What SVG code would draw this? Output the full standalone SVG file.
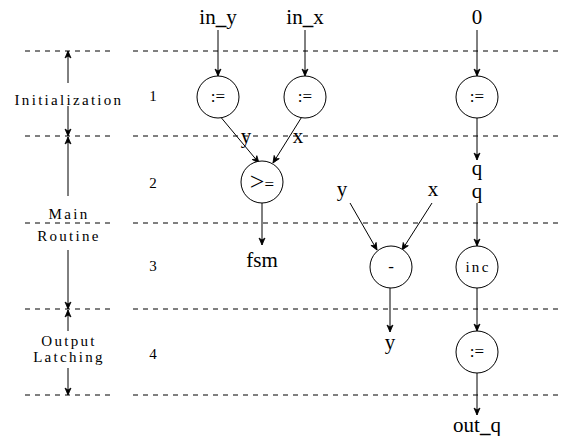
<svg xmlns="http://www.w3.org/2000/svg" width="562" height="436" viewBox="0 0 562 436">
<defs>
<marker id="ah" markerWidth="10" markerHeight="10" refX="8" refY="5" orient="auto" markerUnits="userSpaceOnUse">
<path d="M1,2 L8,5 L1,8 L3,5 Z" fill="#000" stroke="#000" stroke-width="0.8"/>
</marker>
<style>
.dash{stroke:#000;stroke-width:1;stroke-dasharray:5,5;fill:none}
.ln{stroke:#000;stroke-width:1;fill:none;marker-end:url(#ah)}
.nd{fill:#fff;stroke:#000;stroke-width:1}
.t{font-family:"Liberation Serif",serif;font-size:21px;text-anchor:middle;fill:#000}
.s{font-family:"Liberation Serif",serif;font-size:15px;text-anchor:middle;letter-spacing:2.3px;fill:#000}
.n{font-family:"Liberation Serif",serif;font-size:15px;text-anchor:middle;fill:#000}
.op{font-family:"Liberation Serif",serif;font-size:17px;text-anchor:middle;fill:#000}
</style>
</defs>
<g id="grid">
<line class="dash" x1="25" y1="51" x2="112" y2="51"/><line class="dash" x1="133" y1="51" x2="562" y2="51"/>
<line class="dash" x1="25" y1="136" x2="112" y2="136"/><line class="dash" x1="133" y1="136" x2="562" y2="136"/>
<line class="dash" x1="25" y1="223" x2="112" y2="223"/><line class="dash" x1="133" y1="223" x2="562" y2="223"/>
<line class="dash" x1="25" y1="309" x2="112" y2="309"/><line class="dash" x1="133" y1="309" x2="562" y2="309"/>
<line class="dash" x1="25" y1="395" x2="112" y2="395"/><line class="dash" x1="133" y1="395" x2="562" y2="395"/>
</g>
<g id="phases">
<text class="s" x="69" y="105">Initialization</text>
<text class="s" x="69" y="219">Main</text>
<text class="s" x="69" y="241">Routine</text>
<text class="s" x="69" y="346">Output</text>
<text class="s" x="69" y="362">Latching</text>
<text class="n" x="153" y="101">1</text>
<text class="n" x="153" y="188">2</text>
<text class="n" x="153" y="271">3</text>
<text class="n" x="153" y="359">4</text>
</g>
<g id="connectors">
<line class="ln" x1="68" y1="83" x2="68" y2="51"/>
<line class="ln" x1="68" y1="106" x2="68" y2="136"/>
<line class="ln" x1="68" y1="196" x2="68" y2="137"/>
<line class="ln" x1="68" y1="250" x2="68" y2="309"/>
<line class="ln" x1="68" y1="331" x2="68" y2="310"/>
<line class="ln" x1="68" y1="368" x2="68" y2="395"/>
<line class="ln" x1="218" y1="30" x2="218" y2="76"/>
<line class="ln" x1="305" y1="30" x2="305" y2="76"/>
<line class="ln" x1="477" y1="30" x2="477" y2="76"/>
<line class="ln" x1="219" y1="115" x2="259" y2="163"/>
<line class="ln" x1="303" y1="115" x2="273" y2="163"/>
<line class="ln" x1="262" y1="203" x2="262" y2="245"/>
<line class="ln" x1="477" y1="118" x2="477" y2="160"/>
<line class="ln" x1="477" y1="203" x2="477" y2="246"/>
<line class="ln" x1="350" y1="203" x2="377" y2="250"/>
<line class="ln" x1="432" y1="203" x2="402" y2="250"/>
<line class="ln" x1="390" y1="288" x2="390" y2="332"/>
<line class="ln" x1="477" y1="288" x2="477" y2="331"/>
<line class="ln" x1="477" y1="373" x2="477" y2="415"/>
</g>
<g id="n_in_y"><text class="t" x="218" y="24">in<tspan font-weight="bold">_</tspan>y</text></g>
<g id="n_in_x"><text class="t" x="305" y="24">in<tspan font-weight="bold">_</tspan>x</text></g>
<g id="n_zero"><text class="t" x="477" y="24">0</text></g>
<g id="n_assign_y"><circle class="nd" cx="218" cy="97" r="21"/><text class="op" x="218" y="102">:=</text></g>
<g id="n_assign_x"><circle class="nd" cx="305" cy="97" r="21"/><text class="op" x="305" y="102">:=</text></g>
<g id="n_assign_q"><circle class="nd" cx="477" cy="97" r="21"/><text class="op" x="477" y="102">:=</text></g>
<g id="lbl_y"><text class="t" x="246" y="143">y</text></g>
<g id="lbl_x"><text class="t" x="298" y="143">x</text></g>
<g id="n_ge"><circle class="nd" cx="262" cy="182" r="21"/><text class="t" x="262" y="190"><tspan font-size="26">&gt;</tspan><tspan font-size="17">=</tspan></text></g>
<g id="n_q1"><text class="t" x="477" y="175">q</text></g>
<g id="n_q2"><text class="t" x="477" y="198">q</text></g>
<g id="n_y_in"><text class="t" x="342" y="196">y</text></g>
<g id="n_x_in"><text class="t" x="433" y="196">x</text></g>
<g id="n_fsm"><text class="t" x="262" y="267">fsm</text></g>
<g id="n_minus"><circle class="nd" cx="391" cy="267" r="21"/><text class="op" x="391" y="272">-</text></g>
<g id="n_inc"><circle class="nd" cx="477" cy="267" r="21"/><text class="s" x="478" y="272" font-size="12" letter-spacing="1.5">inc</text></g>
<g id="n_y_out"><text class="t" x="390" y="349">y</text></g>
<g id="n_assign_out"><circle class="nd" cx="477" cy="352" r="21"/><text class="op" x="477" y="357">:=</text></g>
<g id="n_out_q"><text class="t" x="477" y="432">out<tspan font-weight="bold">_</tspan>q</text></g>
</svg>
